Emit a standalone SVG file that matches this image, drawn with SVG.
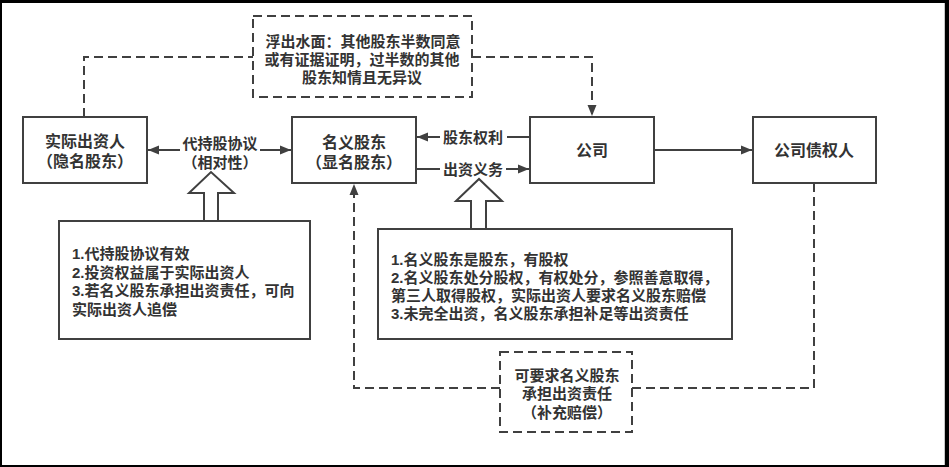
<svg xmlns="http://www.w3.org/2000/svg" width="949" height="467" viewBox="0 0 949 467">
<style>
.box{fill:#fff;stroke:#404040;stroke-width:2}
.dbox{fill:#fff;stroke:#404040;stroke-width:2;stroke-dasharray:9 5}
.ln{fill:none;stroke:#404040;stroke-width:2}
.dl{fill:none;stroke:#404040;stroke-width:2;stroke-dasharray:9 5}
.hol{fill:#fff;stroke:#404040;stroke-width:2;stroke-linejoin:miter}
text{font-family:"Liberation Sans","Noto Sans CJK SC",sans-serif;font-weight:bold;fill:#333}
.n{font-size:16px;text-anchor:middle}
.t{font-size:15px;text-anchor:middle}
.l{font-size:15px}
</style>
<defs>
<marker id="ah" markerWidth="12" markerHeight="10" refX="11" refY="5" orient="auto" markerUnits="userSpaceOnUse">
<path d="M0,0.5 L11,5 L0,9.5 Z" fill="#404040"/>
</marker>
</defs>
<rect x="0" y="0" width="949" height="467" fill="#000"/>
<rect x="2" y="3" width="943" height="462" fill="#fff"/>
<line x1="944.5" y1="3" x2="944.5" y2="465" stroke="#c8c8c8" stroke-width="1"/>

<g id="connectors">
<path class="dl" d="M84,117 V57 H253"/>
<path class="dl" d="M472,57 H592 V116" marker-end="url(#ah)"/>
<line class="ln" x1="180" y1="150" x2="148" y2="150" marker-end="url(#ah)"/>
<line class="ln" x1="260" y1="150" x2="291" y2="150" marker-end="url(#ah)"/>
<line class="ln" x1="530" y1="137" x2="507" y2="137"/>
<line class="ln" x1="440" y1="137" x2="417" y2="137" marker-end="url(#ah)"/>
<line class="ln" x1="416" y1="169" x2="440" y2="169"/>
<line class="ln" x1="506" y1="169" x2="529" y2="169" marker-end="url(#ah)"/>
<line class="ln" x1="654" y1="150" x2="752" y2="150" marker-end="url(#ah)"/>
<path class="dl" d="M814,183 V388 H632"/>
<path class="dl" d="M500,388 H354 V184" marker-end="url(#ah)"/>
<path class="hol" d="M204,221 V193 H189 L211,172 L234,193 H218 V221"/>
<path class="hol" d="M471,229 V201 H456 L479,179 L502,201 H486 V229"/>
<text class="t" x="220" y="148.5">代持股协议</text>
<text class="t" x="220" y="168">（相对性）</text>
<text class="l" x="443" y="142.5">股东权利</text>
<text class="l" x="443" y="174.5">出资义务</text>
</g>

<g id="node-top-note">
<rect class="dbox" x="253" y="16" width="219" height="81"/>
<text class="t" x="363" y="46.5">浮出水面：其他股东半数同意</text>
<text class="t" x="362" y="64.5">或有证据证明，过半数的其他</text>
<text class="t" x="362" y="82.5">股东知情且无异议</text>
</g>

<g id="node-actual">
<rect class="box" x="23" y="117" width="124" height="66"/>
<text class="n" x="85" y="147">实际出资人</text>
<text class="n" x="85" y="167">（隐名股东）</text>
</g>

<g id="node-nominal">
<rect class="box" x="292" y="117" width="124" height="66"/>
<text class="n" x="354" y="147.5">名义股东</text>
<text class="n" x="354" y="167.5">（显名股东）</text>
</g>

<g id="node-company">
<rect class="box" x="530" y="117" width="124" height="66"/>
<text class="n" x="592" y="156">公司</text>
</g>

<g id="node-creditor">
<rect class="box" x="753" y="117" width="123" height="66"/>
<text class="n" x="814" y="156">公司债权人</text>
</g>

<g id="node-left-note">
<rect class="box" x="59" y="221" width="251" height="118"/>
<text class="l" x="72" y="258.5">1.代持股协议有效</text>
<text class="l" x="72" y="277.5">2.投资权益属于实际出资人</text>
<text class="l" x="72" y="296">3.若名义股东承担出资责任，可向</text>
<text class="l" x="72" y="314.5">实际出资人追偿</text>
</g>

<g id="node-right-note">
<rect class="box" x="378" y="229" width="354" height="110"/>
<text class="l" x="391" y="264.5">1.名义股东是股东，有股权</text>
<text class="l" x="391" y="282.5">2.名义股东处分股权，有权处分，参照善意取得，</text>
<text class="l" x="391" y="300.5">第三人取得股权，实际出资人要求名义股东赔偿</text>
<text class="l" x="391" y="318.5">3.未完全出资，名义股东承担补足等出资责任</text>
</g>

<g id="node-bottom-note">
<rect class="dbox" x="500" y="352" width="132" height="80"/>
<text class="t" x="567" y="380.5">可要求名义股东</text>
<text class="t" x="567" y="398.5">承担出资责任</text>
<text class="t" x="567" y="417.5">（补充赔偿）</text>
</g>
</svg>
